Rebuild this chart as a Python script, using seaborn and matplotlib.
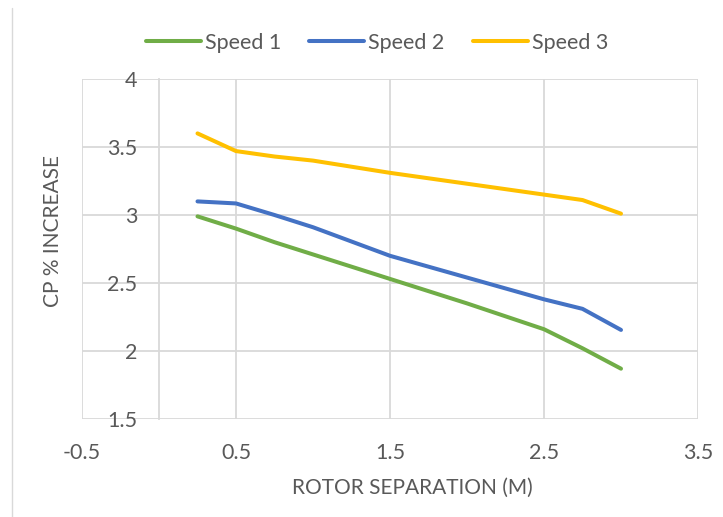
import matplotlib
matplotlib.use("Agg")
import matplotlib.pyplot as plt
import seaborn as sns
import pandas as pd
from matplotlib.lines import Line2D

separation = [0.25, 0.5, 0.75, 1.0, 1.5, 2.0, 2.5, 2.75, 3.0]
speed1 = [2.99, 2.90, 2.80, 2.71, 2.53, 2.35, 2.16, 2.02, 1.87]
speed2 = [3.10, 3.085, 3.00, 2.91, 2.70, 2.54, 2.38, 2.31, 2.155]
speed3 = [3.60, 3.47, 3.43, 3.40, 3.31, 3.23, 3.15, 3.11, 3.01]
series_names = ["Speed 1", "Speed 2", "Speed 3"]
colors = ["#70AD47", "#4472C4", "#FFC000"]
x_ticks = [-0.5, 0.5, 1.5, 2.5, 3.5]
y_ticks = [1.5, 2, 2.5, 3, 3.5, 4]

df = pd.concat([
    pd.DataFrame({"x": separation, "y": vals, "series": name})
    for name, vals in zip(series_names, [speed1, speed2, speed3])
])

sns.set_style("white")
plt.rcParams["font.family"] = ["Lato", "DejaVu Sans"]

W, H = 723, 517
fig = plt.figure(figsize=(W / 100, H / 100), dpi=100)
ax = fig.add_axes([82 / W, 1 - 419 / H, (698 - 82) / W, (419 - 79) / H])

sns.lineplot(data=df, x="x", y="y", hue="series", palette=colors,
             linewidth=2.9, ax=ax, legend=False, solid_capstyle="round",
             solid_joinstyle="round")

grid_c = "#D9D9D9"
text_c = "#595959"
ax.set_xlim(-0.5, 3.5)
ax.set_ylim(1.5, 4)
ax.set_xticks(x_ticks)
ax.set_yticks(y_ticks)
ax.set_xticklabels([f"{v:g}" for v in x_ticks])
ax.set_yticklabels([f"{v:g}" for v in y_ticks])
ax.grid(True, color=grid_c, linewidth=1.3)
ax.set_axisbelow(True)
for s in ["top", "right", "bottom"]:
    ax.spines[s].set_visible(False)
ax.spines["left"].set_position(("data", 0))
ax.spines["left"].set_color(grid_c)
ax.spines["left"].set_linewidth(1.3)
ax.tick_params(axis="y", length=0, pad=15.5, labelsize=15.5, labelcolor=text_c)
ax.tick_params(axis="x", length=0, pad=17.5, labelsize=15.5, labelcolor=text_c)

ax.set_xlabel("ROTOR SEPARATION (M)", fontsize=15, color=text_c)
ax.set_ylabel("CP % INCREASE", fontsize=15, color=text_c)
ax.xaxis.set_label_coords((412 - 82) / (698 - 82), (419 - 488) / (419 - 79), transform=ax.transAxes)
ax.yaxis.set_label_coords((53 - 82) / (698 - 82), (419 - 231) / (419 - 79), transform=ax.transAxes)
ax.xaxis.label.set_va("center")
ax.yaxis.label.set_va("center")
ax.yaxis.label.set_ha("center")

handles = [Line2D([0], [0], color=c, lw=2.9, solid_capstyle="round") for c in colors]
fig.legend(handles, series_names, loc="center", bbox_to_anchor=(377 / W, 1 - 43 / H),
           ncol=3, frameon=False, fontsize=15.5, handlelength=2.55, handletextpad=0.2,
           columnspacing=1.3, labelcolor=text_c, borderaxespad=0, borderpad=0)

fig.add_artist(Line2D([12 / W, 12 / W], [0, 1 - 8 / H], color=grid_c, lw=1.0))

fig.savefig("out.png", dpi=100)
